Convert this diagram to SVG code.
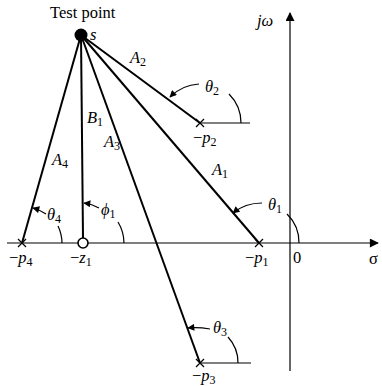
<svg xmlns="http://www.w3.org/2000/svg" width="382" height="386" viewBox="0 0 382 386" font-family="Liberation Serif, Times New Roman, serif" font-size="16.5">
<defs>
<style>
.ln{stroke:#000;stroke-width:2;fill:none}
.th{stroke:#000;stroke-width:1.2;fill:none}
.t{fill:#000}
.i{font-style:italic}
.sb{font-size:12px;font-style:normal}
</style>
<marker id="ah" viewBox="0 0 10 10" refX="9" refY="5" markerWidth="9" markerHeight="7" orient="auto" markerUnits="userSpaceOnUse">
<path d="M0,0 L10,5 L0,10 Z" fill="#000"/>
</marker>
<marker id="big" viewBox="0 0 10 10" refX="9" refY="5" markerWidth="14" markerHeight="9" orient="auto" markerUnits="userSpaceOnUse">
<path d="M0,0 L10,5 L0,10 Z" fill="#000"/>
</marker>
</defs>
<g id="axes">
<line class="th" x1="7" y1="243" x2="378" y2="243" stroke-width="1.6" marker-end="url(#big)"/>
<line class="th" x1="290" y1="371" x2="290" y2="13" stroke-width="1.6" marker-end="url(#big)"/>
</g>
<g id="connectors">
<line class="ln" x1="81" y1="35" x2="22" y2="243"/>
<line class="ln" x1="81" y1="35" x2="83" y2="238"/>
<line class="ln" x1="81" y1="35" x2="200" y2="363"/>
<line class="ln" x1="81" y1="35" x2="259" y2="243"/>
<line class="ln" x1="81" y1="35" x2="200" y2="123"/>
<line class="th" x1="200" y1="123" x2="250" y2="123"/>
<line class="th" x1="200" y1="363" x2="251" y2="363"/>
</g>
<g id="angles">
<path class="th" d="M241,123 A41,41 0 0 0 229,94"/>
<path class="th" d="M299,243 A40,40 0 0 0 287,214"/>
<path class="th" d="M238,363 A38,38 0 0 0 228,337"/>
<path class="th" d="M62,243 A40,40 0 0 0 58,226"/>
<path class="th" d="M124,243 A41,41 0 0 0 118,222"/>
<path class="th" d="M199,84 Q182,85 170,97" marker-end="url(#ah)"/>
<path class="th" d="M262,203 Q245,203 233,213" marker-end="url(#ah)"/>
<path class="th" d="M210,329 Q198,327 188,328" marker-end="url(#ah)"/>
<path class="th" d="M46,214 Q40,210 33,208" marker-end="url(#ah)"/>
<path class="th" d="M99,208 Q92,204 84,203" marker-end="url(#ah)"/>
</g>
<g id="test-point">
<circle cx="81" cy="35" r="6.5" fill="#000"/>
<text class="t" x="50" y="18">Test point</text>
<text class="t i" x="90" y="40">s</text>
</g>
<g id="p4">
<path class="th" d="M18,239 L26,247 M26,239 L18,247"/>
<text class="t" x="9" y="263"><tspan>−</tspan><tspan class="i">p</tspan><tspan class="sb" dy="3">4</tspan></text>
</g>
<g id="z1">
<circle cx="83" cy="243" r="5" fill="#fff" stroke="#000" stroke-width="1.6"/>
<text class="t" x="70" y="263"><tspan>−</tspan><tspan class="i">z</tspan><tspan class="sb" dy="3">1</tspan></text>
</g>
<g id="p1">
<path class="th" d="M255,239 L263,247 M263,239 L255,247"/>
<text class="t" x="245" y="263"><tspan>−</tspan><tspan class="i">p</tspan><tspan class="sb" dy="3">1</tspan></text>
</g>
<g id="p2">
<path class="th" d="M196,119 L204,127 M204,119 L196,127"/>
<text class="t" x="193" y="143"><tspan>−</tspan><tspan class="i">p</tspan><tspan class="sb" dy="3">2</tspan></text>
</g>
<g id="p3">
<path class="th" d="M196,359 L204,367 M204,359 L196,367"/>
<text class="t" x="192" y="381"><tspan>−</tspan><tspan class="i">p</tspan><tspan class="sb" dy="3">3</tspan></text>
</g>
<g id="labels">
<text class="t i" x="130" y="63">A<tspan class="sb" dy="3">2</tspan></text>
<text class="t i" x="87" y="123">B<tspan class="sb" dy="3">1</tspan></text>
<text class="t i" x="52" y="165">A<tspan class="sb" dy="3">4</tspan></text>
<text class="t i" x="104" y="147">A<tspan class="sb" dy="3">3</tspan></text>
<text class="t i" x="212" y="175">A<tspan class="sb" dy="3">1</tspan></text>
<text class="t i" x="205" y="92">θ<tspan class="sb" dy="3">2</tspan></text>
<text class="t i" x="268" y="210">θ<tspan class="sb" dy="3">1</tspan></text>
<text class="t i" x="213" y="333">θ<tspan class="sb" dy="3">3</tspan></text>
<text class="t i" x="47" y="220">θ<tspan class="sb" dy="3">4</tspan></text>
<text class="t i" x="101" y="215">ϕ<tspan class="sb" dy="3">1</tspan></text>
<text class="t" x="293" y="263">0</text>
<text class="t" x="369" y="264">σ</text>
<text class="t i" x="257" y="26">jω</text>
</g>
</svg>
